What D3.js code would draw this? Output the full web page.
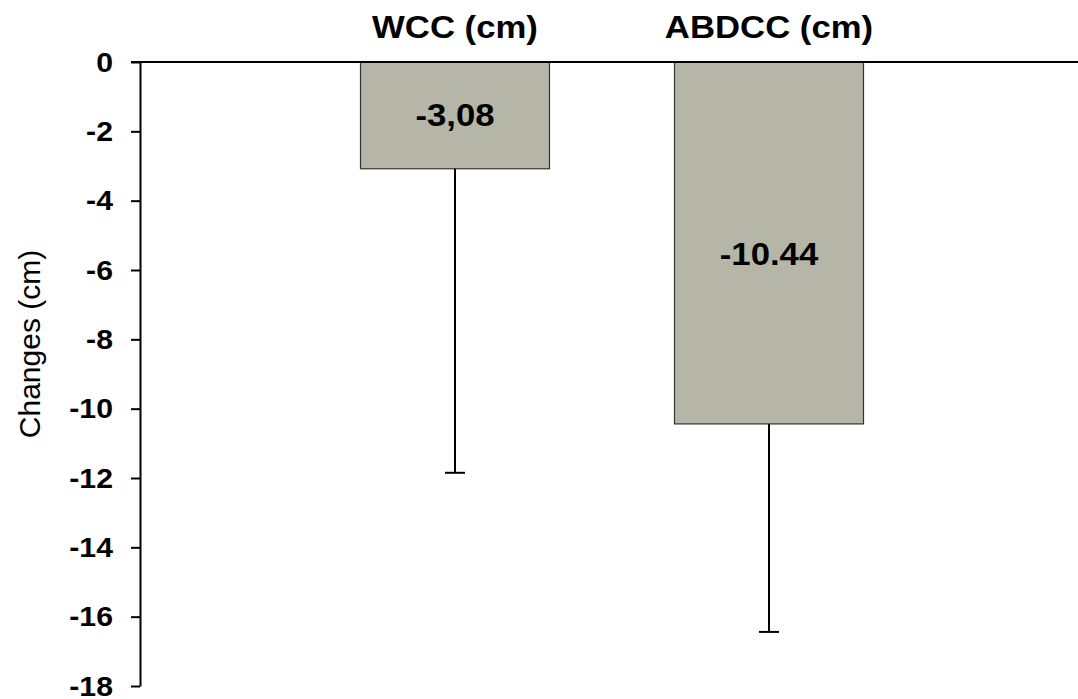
<!DOCTYPE html>
<html><head><meta charset="utf-8">
<script src="https://cdn.jsdelivr.net/npm/d3@7"></script>
<style>body{margin:0;background:#fff}svg{display:block}text{font-family:"Liberation Sans",Arial,sans-serif}</style>
</head><body>
<svg id="c" width="1078" height="699"></svg>
<script>
const categories = ["WCC (cm)", "ABDCC (cm)"];
const values = [-3.08, -10.44];
const valueLabels = ["-3,08", "-10.44"];
const errorLows = [-11.85, -16.44];
const yTicks = [0, -2, -4, -6, -8, -10, -12, -14, -16, -18];
const yTitle = "Changes (cm)";

const svg = d3.select("#c");
const y = d3.scaleLinear().domain([0, -18]).range([62, 686]);
const x = d3.scalePoint().domain(categories).range([455, 769]);
const barW = 189;
const sx = 1.12;
const fmt = d => String(d);

// bars
svg.selectAll("rect.bar").data(categories).join("rect")
  .attr("x", d => x(d) - barW / 2)
  .attr("y", y(0))
  .attr("width", barW)
  .attr("height", (d, i) => y(values[i]) - y(0))
  .attr("fill", "#b5b5a8").attr("stroke", "#333").attr("stroke-width", 1.2);

// error bars
svg.selectAll("line.err").data(categories).join("line")
  .attr("x1", d => x(d)).attr("x2", d => x(d))
  .attr("y1", (d, i) => y(values[i])).attr("y2", (d, i) => y(errorLows[i]))
  .attr("stroke", "#000").attr("stroke-width", 2);
svg.selectAll("line.cap").data(categories).join("line")
  .attr("x1", d => x(d) - 10).attr("x2", d => x(d) + 10)
  .attr("y1", (d, i) => y(errorLows[i])).attr("y2", (d, i) => y(errorLows[i]))
  .attr("stroke", "#000").attr("stroke-width", 2);

// y axis
const ax = svg.append("g").attr("transform", "translate(140,0)")
  .call(d3.axisLeft(y).tickValues(yTicks).tickSize(9).tickSizeOuter(0).tickFormat(fmt));
ax.select(".domain").attr("stroke", "#000").attr("stroke-width", 2);
ax.selectAll(".tick line").attr("stroke", "#000").attr("stroke-width", 2);
ax.selectAll(".tick text").remove();
ax.selectAll(".tick").append("text")
  .attr("transform", "translate(-27,0) scale(" + sx + ",1)")
  .attr("text-anchor", "end").attr("dy", "0.34em")
  .attr("fill", "#000").attr("font-weight", "bold").attr("font-size", 27)
  .style("font-family", '"Liberation Sans",Arial,sans-serif')
  .text(fmt);

// zero line
svg.append("line").attr("x1", 131).attr("x2", 1078).attr("y1", y(0)).attr("y2", y(0))
  .attr("stroke", "#000").attr("stroke-width", 2);

// category labels
svg.selectAll("text.cat").data(categories).join("text")
  .attr("transform", d => "translate(" + x(d) + ",38) scale(" + sx + ",1)")
  .attr("text-anchor", "middle").attr("font-weight", "bold").attr("font-size", 31)
  .text(d => d);

// value labels
svg.selectAll("text.val").data(categories).join("text")
  .attr("transform", (d, i) => "translate(" + x(d) + "," + (i === 0 ? 126 : 265) + ") scale(" + sx + ",1)")
  .attr("text-anchor", "middle").attr("font-weight", "bold").attr("font-size", 31)
  .text((d, i) => valueLabels[i]);

// y title
svg.append("text")
  .attr("transform", "translate(40,344) rotate(-90)")
  .attr("text-anchor", "middle").attr("font-size", 30)
  .text(yTitle);
</script>
</body></html>
